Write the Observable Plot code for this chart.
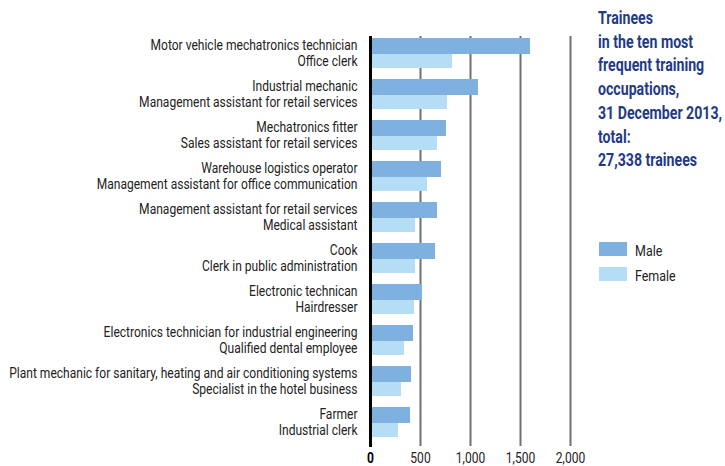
<!DOCTYPE html>
<html>
<head>
<meta charset="utf-8">
<script src="https://cdn.jsdelivr.net/npm/d3@7"></script>
<script src="https://cdn.jsdelivr.net/npm/@observablehq/plot@0.6"></script>
<style>
  body { margin: 0; background: #fff; }
  #wrap { position: relative; width: 725px; height: 466px; font-family: Roboto, "Noto Sans", sans-serif; overflow: hidden; }
  #title { position: absolute; left: 598px; top: 6px; font-size: 18px; font-weight: bold; line-height: 23.7px; color: #1f3b87; white-space: nowrap; transform-origin: 0 0; }
  .sw { position: absolute; left: 599px; width: 28px; height: 14px; }
  .lg { position: absolute; left: 635px; font-size: 15px; color: #222; line-height: 16px; white-space: nowrap; transform-origin: 0 0; }
  #chart { position: absolute; left: 0; top: 0; }
</style>
</head>
<body>
<div id="wrap">
  <div id="chart"></div>
  <div id="title"></div>
  <div id="legend"></div>
</div>
<script>
const ranks = [1, 2, 3, 4, 5, 6, 7, 8, 9, 10];
const maleOccupations = [
  "Motor vehicle mechatronics technician",
  "Industrial mechanic",
  "Mechatronics fitter",
  "Warehouse logistics operator",
  "Management assistant for retail services",
  "Cook",
  "Electronic technican",
  "Electronics technician for industrial engineering",
  "Plant mechanic for sanitary, heating and air conditioning systems",
  "Farmer"
];
const maleValues = [1600, 1080, 760, 710, 670, 650, 520, 430, 410, 400];
const femaleOccupations = [
  "Office clerk",
  "Management assistant for retail services",
  "Sales assistant for retail services",
  "Management assistant for office communication",
  "Medical assistant",
  "Clerk in public administration",
  "Hairdresser",
  "Qualified dental employee",
  "Specialist in the hotel business",
  "Industrial clerk"
];
const femaleValues = [820, 770, 670, 570, 450, 450, 440, 340, 310, 280];
const xTicks = [0, 500, 1000, 1500, 2000];
const gridTicks = [500, 1000, 1500, 2000];
const titleLines = ["Trainees", "in the ten most", "frequent training", "occupations,", "31 December 2013,", "total:", "27,338 trainees"];
const legendLabels = ["Male", "Female"];

const maleColor = "#7fb1e0";
const femaleColor = "#b5ddf6";
const font = 'Roboto, "Noto Sans", sans-serif';

const data = ranks.map((r, i) => ({
  rank: r,
  maleOcc: maleOccupations[i], male: maleValues[i],
  femaleOcc: femaleOccupations[i], female: femaleValues[i]
}));

const fmt = d3.format(",");

const chart = Plot.plot({
  width: 725,
  height: 466,
  marginLeft: 370,
  marginRight: 155,
  marginTop: 38,
  marginBottom: 20,
  style: { fontFamily: font, fontSize: "14px", color: "#222", background: "transparent" },
  x: { domain: [0, 2000], axis: null },
  y: { domain: ranks, type: "band", paddingInner: 11 / 41, paddingOuter: 0.11, align: 0, round: false, axis: null },
  marks: [
    Plot.ruleX(gridTicks, { x: d => d, stroke: "#707070", strokeWidth: 2, insetTop: -2 }),
    Plot.barX(data, { x: "male", y: "rank", fill: maleColor, insetBottom: 14 }),
    Plot.barX(data, { x: "female", y: "rank", fill: femaleColor, insetTop: 16 }),
    Plot.ruleX([0], { stroke: "#000", strokeWidth: 3, insetTop: -2, insetBottom: -1 }),
    Plot.text(data, { x: 0, y: "rank", text: "maleOcc", textAnchor: "end", dx: -13, dy: -8, fill: "#222", fontSize: 14.5 }),
    Plot.text(data, { x: 0, y: "rank", text: "femaleOcc", textAnchor: "end", dx: -13, dy: 8, fill: "#222", fontSize: 14.5 }),
    Plot.text(xTicks.filter(d => d !== 0), { x: d => d, frameAnchor: "bottom", lineAnchor: "top", dy: 6, text: d => fmt(d), fill: "#222", fontSize: 14.5 }),
    Plot.text(xTicks.filter(d => d === 0), { x: d => d, frameAnchor: "bottom", lineAnchor: "top", dy: 6, text: d => fmt(d), fill: "#000", fontSize: 14.5, fontWeight: "bold" })
  ]
});
document.getElementById("chart").appendChild(chart);

// condense text horizontally to mimic a condensed typeface
const texts = Array.from(chart.querySelectorAll("text"));
let k = 0.82;
const ref = texts.find(t => t.textContent === maleOccupations[0]);
if (ref) { const w = ref.getComputedTextLength(); if (w > 0) k = 207 / w; }
texts.forEach(t => {
  const w = t.getComputedTextLength();
  if (w > 0) { t.setAttribute("textLength", w * k); t.setAttribute("lengthAdjust", "spacingAndGlyphs"); }
});

const title = document.getElementById("title");
title.innerHTML = titleLines.join("<br>");
const tw = title.getBoundingClientRect().width;
if (tw > 0) title.style.transform = `scaleX(${124 / tw})`;

const legend = document.getElementById("legend");
[[legendLabels[0], maleColor, 242], [legendLabels[1], femaleColor, 267]].forEach(([label, color, top]) => {
  const sw = document.createElement("div");
  sw.className = "sw"; sw.style.top = top + "px"; sw.style.background = color;
  legend.appendChild(sw);
  const t = document.createElement("div");
  t.className = "lg"; t.style.top = (top + 1) + "px"; t.textContent = label;
  t.style.transform = `scaleX(${k})`;
  legend.appendChild(t);
});
</script>
</body>
</html>
